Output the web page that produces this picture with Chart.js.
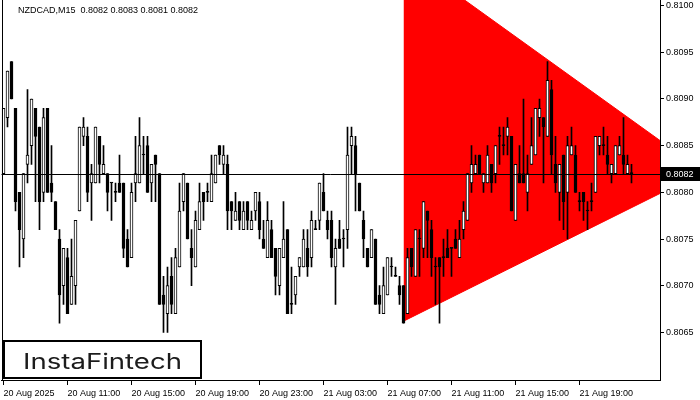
<!DOCTYPE html>
<html>
<head>
<meta charset="utf-8">
<script src="https://cdn.jsdelivr.net/npm/chart.js@4.4.1/dist/chart.umd.min.js"></script>
<style>
  html, body { margin: 0; background: #fff; }
  canvas { display: block; }
</style>
</head>
<body>
<canvas id="chart" width="700" height="400"></canvas>
<script>
/* NZDCAD M15 candles + symmetrical triangle (bearish) */
const title = "NZDCAD,M15  0.8082 0.8083 0.8081 0.8082";

const opens = [
  0.8082,0.8088,0.8094,0.8089,0.8080,0.8075,0.8083,0.8085,0.8089,0.8087,
  0.8080,0.8089,0.8081,0.8079,0.8075,0.8070,0.8073,0.8068,0.8070,0.8078,
  0.8086,0.8086,0.8081,0.8081,0.8086,0.8082,0.8082,0.8081,0.8080,0.8081,
  0.8081,0.8075,0.8073,0.8081,0.8081,0.8084,0.8085,0.8081,0.8084,0.8082,
  0.8069,0.8067,0.8071,0.8067,0.8072,0.8079,0.8081,0.8074,0.8072,0.8076,
  0.8080,0.8080,0.8079,0.8081,0.8085,0.8083,0.8083,0.8079,0.8077,0.8079,
  0.8076,0.8079,0.8076,0.8078,0.8079,0.8075,0.8073,0.8076,0.8074,0.8070,
  0.8073,0.8076,0.8068,0.8069,0.8072,0.8072,0.8074,0.8073,0.8076,0.8077,
  0.8080,0.8077,0.8077,0.8072,0.8075,0.8075,0.8076,0.8085,0.8085,0.8081,
  0.8077,0.8074,0.8073,0.8075,0.8069,0.8067,0.8069,0.8072,0.8071,0.8070,
  0.8070,0.8067,0.8074,0.8071,0.8075,0.8074,0.8078,0.8076,0.8072,0.8073,
  0.8073,0.8074,0.8074,0.8075,0.8073,0.8076,0.8077,0.8081,0.8082,0.8084,
  0.8081,0.8081,0.8083,0.8082,0.8086,0.8085,0.8086,0.8086,0.8077,0.8082,
  0.8082,0.8080,0.8083,0.8084,0.8088,0.8088,0.8086,0.8091,0.8083,0.8080,
  0.8084,0.8080,0.8084,0.8084,0.8079,0.8080,0.8078,0.8079,0.8080,0.8085,
  0.8085,0.8084,0.8082,0.8082,0.8084,0.8084,0.8082,0.8082
];
const highs = [
  0.8089,0.8093,0.8094,0.8089,0.8080,0.8082,0.8091,0.8090,0.8089,0.8087,
  0.8089,0.8089,0.8085,0.8079,0.8076,0.8074,0.8074,0.8075,0.8077,0.8087,
  0.8088,0.8087,0.8083,0.8087,0.8086,0.8085,0.8082,0.8081,0.8081,0.8084,
  0.8081,0.8076,0.8081,0.8086,0.8088,0.8086,0.8086,0.8083,0.8084,0.8082,
  0.8071,0.8072,0.8073,0.8074,0.8081,0.8082,0.8081,0.8076,0.8078,0.8081,
  0.8080,0.8081,0.8084,0.8084,0.8085,0.8085,0.8084,0.8079,0.8080,0.8079,
  0.8079,0.8079,0.8078,0.8080,0.8080,0.8077,0.8079,0.8077,0.8074,0.8074,
  0.8079,0.8076,0.8072,0.8071,0.8073,0.8076,0.8076,0.8078,0.8077,0.8081,
  0.8082,0.8078,0.8078,0.8075,0.8077,0.8076,0.8087,0.8087,0.8086,0.8081,
  0.8078,0.8074,0.8076,0.8075,0.8070,0.8072,0.8073,0.8073,0.8072,0.8071,
  0.8070,0.8074,0.8074,0.8076,0.8076,0.8079,0.8078,0.8077,0.8073,0.8073,
  0.8075,0.8076,0.8074,0.8076,0.8077,0.8079,0.8082,0.8085,0.8084,0.8084,
  0.8082,0.8085,0.8083,0.8085,0.8087,0.8087,0.8088,0.8086,0.8083,0.8085,
  0.8090,0.8084,0.8088,0.8089,0.8090,0.8088,0.8094,0.8092,0.8086,0.8083,
  0.8084,0.8086,0.8087,0.8085,0.8080,0.8080,0.8079,0.8081,0.8086,0.8086,
  0.8087,0.8086,0.8083,0.8085,0.8086,0.8088,0.8084,0.8083
];
const lows = [
  0.8082,0.8087,0.8090,0.8078,0.8072,0.8073,0.8081,0.8083,0.8079,0.8076,
  0.8079,0.8080,0.8079,0.8076,0.8066,0.8068,0.8067,0.8068,0.8068,0.8078,
  0.8085,0.8079,0.8077,0.8081,0.8081,0.8082,0.8078,0.8077,0.8079,0.8080,
  0.8073,0.8072,0.8073,0.8079,0.8081,0.8082,0.8080,0.8079,0.8079,0.8068,
  0.8065,0.8065,0.8067,0.8067,0.8072,0.8078,0.8075,0.8070,0.8072,0.8076,
  0.8077,0.8079,0.8079,0.8081,0.8083,0.8082,0.8076,0.8076,0.8077,0.8076,
  0.8076,0.8076,0.8076,0.8077,0.8075,0.8074,0.8073,0.8073,0.8069,0.8069,
  0.8073,0.8067,0.8067,0.8068,0.8071,0.8072,0.8071,0.8072,0.8076,0.8076,
  0.8078,0.8075,0.8072,0.8068,0.8074,0.8072,0.8074,0.8082,0.8078,0.8078,
  0.8073,0.8072,0.8073,0.8068,0.8067,0.8067,0.8069,0.8071,0.8071,0.8068,
  0.8066,0.8067,0.8071,0.8071,0.8071,0.8073,0.8073,0.8071,0.8068,0.8066,
  0.8071,0.8073,0.8071,0.8074,0.8073,0.8075,0.8077,0.8080,0.8082,0.8082,
  0.8080,0.8081,0.8080,0.8081,0.8083,0.8084,0.8084,0.8078,0.8077,0.8081,
  0.8081,0.8078,0.8083,0.8084,0.8086,0.8081,0.8086,0.8082,0.8080,0.8077,
  0.8076,0.8075,0.8084,0.8080,0.8078,0.8077,0.8076,0.8078,0.8080,0.8084,
  0.8084,0.8082,0.8081,0.8082,0.8084,0.8082,0.8082,0.8081
];
const closes = [
  0.8089,0.8093,0.8090,0.8079,0.8076,0.8082,0.8084,0.8090,0.8086,0.8079,
  0.8088,0.8080,0.8080,0.8076,0.8069,0.8074,0.8067,0.8071,0.8077,0.8087,
  0.8087,0.8080,0.8082,0.8087,0.8083,0.8083,0.8080,0.8081,0.8080,0.8080,
  0.8074,0.8072,0.8080,0.8082,0.8085,0.8084,0.8080,0.8083,0.8083,0.8068,
  0.8068,0.8070,0.8068,0.8073,0.8078,0.8082,0.8075,0.8073,0.8077,0.8079,
  0.8079,0.8080,0.8082,0.8084,0.8084,0.8084,0.8078,0.8078,0.8078,0.8077,
  0.8078,0.8077,0.8077,0.8080,0.8076,0.8074,0.8077,0.8073,0.8071,0.8074,
  0.8075,0.8067,0.8068,0.8071,0.8073,0.8075,0.8072,0.8077,0.8076,0.8081,
  0.8078,0.8076,0.8073,0.8074,0.8074,0.8075,0.8084,0.8086,0.8082,0.8078,
  0.8075,0.8072,0.8076,0.8068,0.8068,0.8070,0.8073,0.8072,0.8071,0.8069,
  0.8066,0.8073,0.8072,0.8076,0.8075,0.8079,0.8077,0.8073,0.8072,0.8072,
  0.8073,0.8073,0.8074,0.8074,0.8075,0.8078,0.8082,0.8083,0.8083,0.8082,
  0.8082,0.8084,0.8081,0.8085,0.8086,0.8085,0.8087,0.8078,0.8083,0.8081,
  0.8081,0.8082,0.8085,0.8089,0.8089,0.8087,0.8092,0.8084,0.8081,0.8083,
  0.8079,0.8085,0.8085,0.8080,0.8079,0.8079,0.8078,0.8079,0.8086,0.8086,
  0.8085,0.8083,0.8083,0.8085,0.8085,0.8083,0.8083,0.8082
];

// time axis: bar index -> label
const timeTicks  = [0, 16, 32, 48, 64, 80, 96, 112, 128, 144];
const timeLabels = ["20 Aug 2025", "20 Aug 11:00", "20 Aug 15:00", "20 Aug 19:00", "20 Aug 23:00",
                    "21 Aug 03:00", "21 Aug 07:00", "21 Aug 11:00", "21 Aug 15:00", "21 Aug 19:00"];
const priceTicks = [0.8065, 0.8070, 0.8075, 0.8080, 0.8085, 0.8090, 0.8095, 0.8100];

// triangle pattern borders: [bar index, price]
const triUpper = [[100, 0.81053], [175, 0.80822]];
const triLower = [[100, 0.80662], [175, 0.80822]];

const lastPrice = closes[closes.length - 1];

Chart.defaults.font.family = "'Liberation Sans', Arial, sans-serif";
Chart.defaults.font.size = 9;
Chart.defaults.color = "#000";

const bodies = opens.map(function (o, i) {
  return { x: i, y: [Math.min(o, closes[i]), Math.max(o, closes[i])] };
});
const bodyFill = opens.map(function (o, i) { return closes[i] > o ? "#fff" : "#000"; });
const wicks = lows.map(function (l, i) { return { x: i, y: [l, highs[i]] }; });

const decor = {
  id: "decor",
  afterDatasetsDraw(chart) {
    const { ctx, chartArea: a, scales: { y } } = chart;
    const py = Math.round(y.getPixelForValue(lastPrice)) + 0.5;
    ctx.save();
    ctx.strokeStyle = "#000"; ctx.lineWidth = 1;
    ctx.beginPath(); ctx.moveTo(a.left, py); ctx.lineTo(a.right, py); ctx.stroke();
    ctx.restore();
  },
  afterDraw(chart) {
    const { ctx, chartArea: a, scales: { y } } = chart;
    ctx.save();
    // left frame
    ctx.strokeStyle = "#000"; ctx.lineWidth = 1;
    ctx.beginPath(); ctx.moveTo(2.5, 0); ctx.lineTo(2.5, a.bottom); ctx.stroke();
    // title
    ctx.fillStyle = "#000"; ctx.font = "9px 'Liberation Sans'"; ctx.textBaseline = "middle"; ctx.textAlign = "left";
    ctx.fillText(title, 18, 11);
    // current price tag
    const py = Math.round(y.getPixelForValue(lastPrice));
    ctx.fillRect(661, py - 7, 39, 14);
    ctx.fillStyle = "#fff";
    ctx.fillText(lastPrice.toFixed(4), 666, py + 0.5);
    // logo box
    ctx.fillStyle = "#fff"; ctx.fillRect(3, 340, 199, 39);
    ctx.strokeStyle = "#000"; ctx.lineWidth = 2; ctx.strokeRect(4, 341, 197, 37);
    ctx.fillStyle = "#1c1c1c"; ctx.font = "21px Inter"; ctx.textBaseline = "alphabetic";
    const w = ctx.measureText("InstaFintech").width;
    ctx.translate(23, 369); ctx.scale(159 / w, 1);
    ctx.fillText("InstaFintech", 0, 0);
    ctx.restore();
  }
};

new Chart(document.getElementById("chart"), {
  type: "bar",
  data: {
    datasets: [
      { data: bodies, backgroundColor: bodyFill, borderColor: "#000", borderWidth: 1, borderSkipped: false,
        barThickness: 3, minBarLength: 1, grouped: false, order: 0 },
      { data: wicks, backgroundColor: "#000", borderWidth: 0, barThickness: 1, grouped: false, order: 1 },
      { type: "line", data: triUpper.map(function (p) { return { x: p[0], y: p[1] }; }),
        borderColor: "#ff0000", backgroundColor: "#ff0000", borderWidth: 1, pointRadius: 0, fill: "+1", order: 2 },
      { type: "line", data: triLower.map(function (p) { return { x: p[0], y: p[1] }; }),
        borderColor: "#ff0000", borderWidth: 1, pointRadius: 0, fill: false, order: 3 }
    ]
  },
  options: {
    responsive: false, animation: false, devicePixelRatio: 1,
    layout: { padding: { left: 1.5, right: 0, top: 0, bottom: 0 } },
    plugins: { legend: { display: false }, tooltip: { enabled: false } },
    scales: {
      x: {
        type: "linear", min: -0.5, max: 164.125, offset: false,
        grid: { drawOnChartArea: false, offset: false, color: "#000", tickLength: 5 },
        border: { color: "#000" },
        ticks: { autoSkip: false, maxRotation: 0, minRotation: 0, align: "start", padding: 3,
                 callback: function (v, i) { return timeLabels[i]; } },
        afterBuildTicks: function (s) { s.ticks = timeTicks.map(function (v) { return { value: v }; }); },
        afterFit: function (s) { s.height = 20; s.paddingLeft = 0; s.paddingRight = 0; }
      },
      y: {
        position: "right", min: 0.80599, max: 0.81006,
        grid: { drawOnChartArea: false, color: "#000", tickLength: 4 },
        border: { color: "#000" },
        ticks: { padding: 2, callback: function (v) { return v.toFixed(4); } },
        afterBuildTicks: function (s) { s.ticks = priceTicks.map(function (v) { return { value: v }; }); },
        afterFit: function (s) { s.width = 40; s.paddingTop = 0; s.paddingBottom = 0; }
      }
    }
  },
  plugins: [decor]
});
</script>
</body>
</html>
